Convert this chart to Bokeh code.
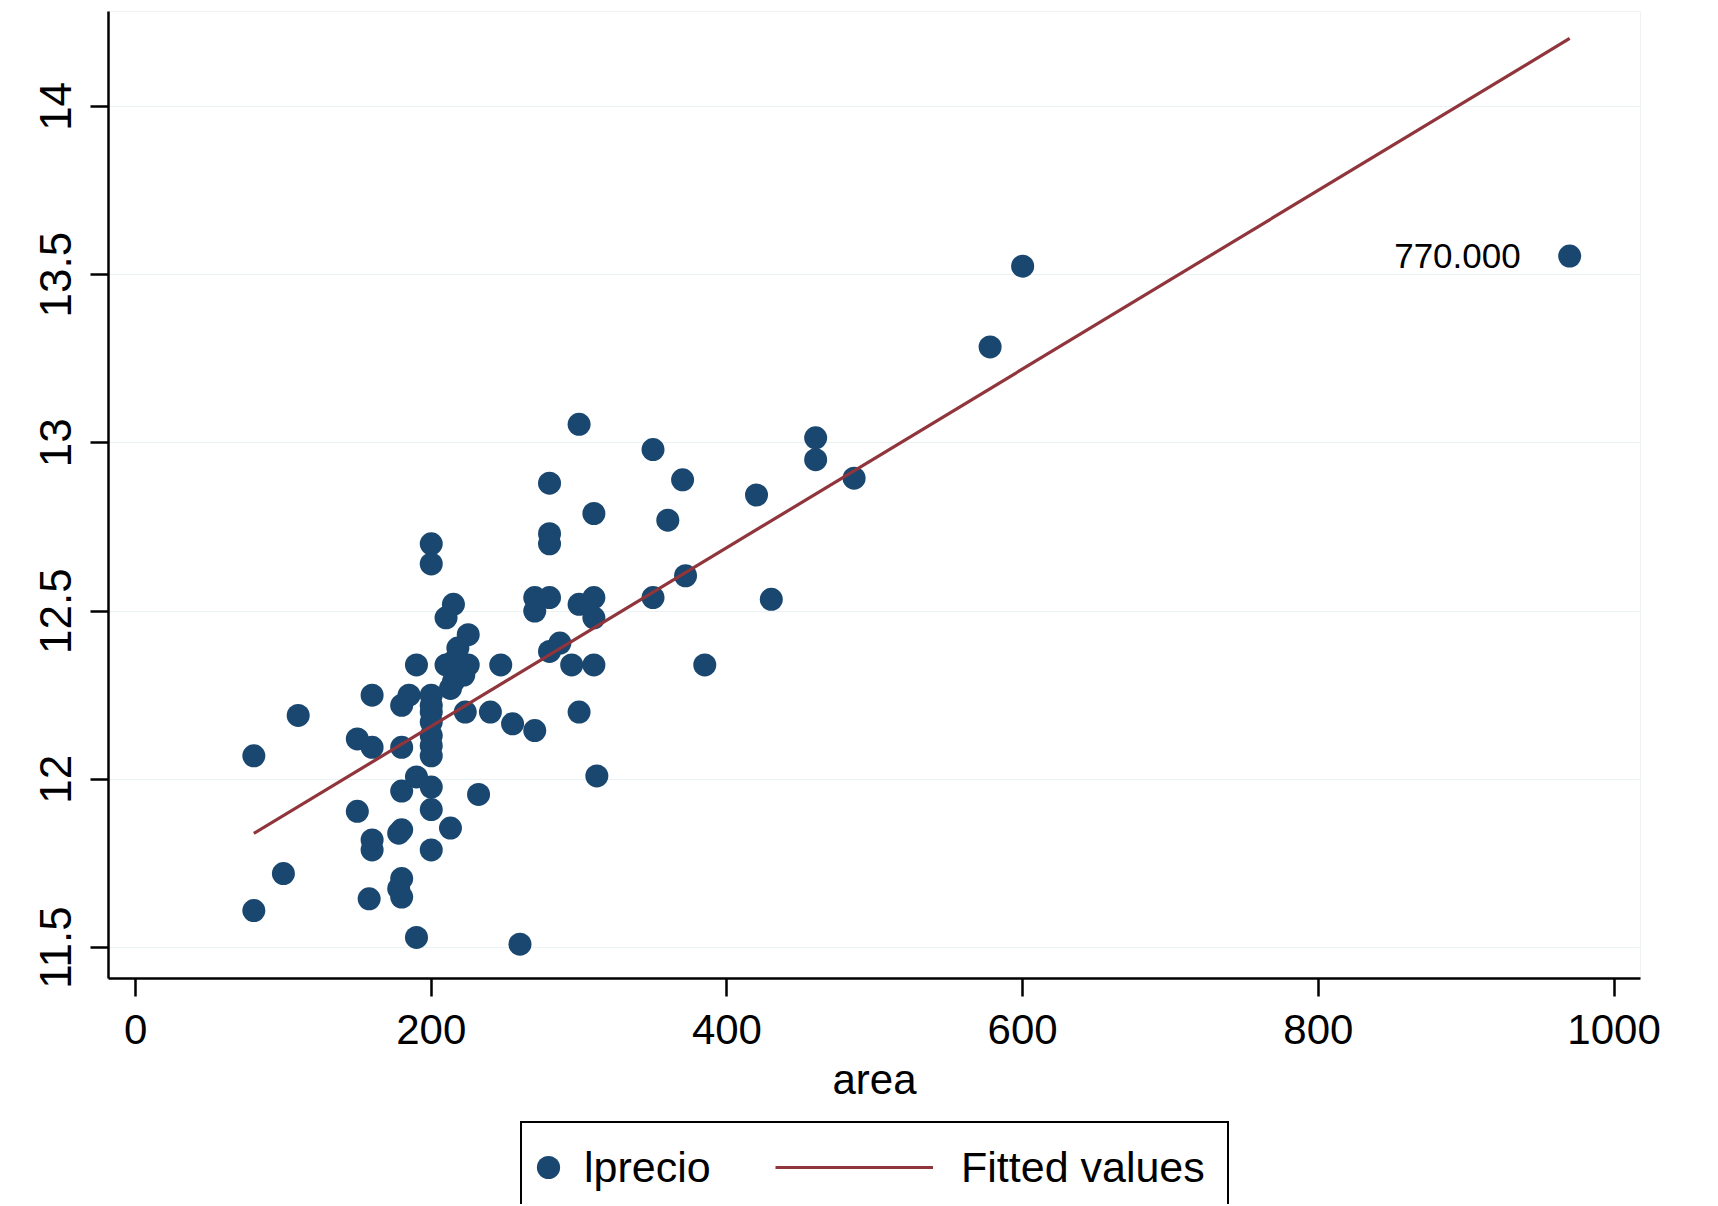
from bokeh.plotting import figure
from bokeh.layouts import column
from bokeh.models import Range1d, FixedTicker, Legend, LegendItem, NumeralTickFormatter
from bokeh.embed import file_html
from bokeh.resources import INLINE
from bokeh.core.properties import value

# ---- data ----
area = [80, 80, 100, 110, 150, 150, 160, 160, 160, 160, 158,
        178, 180, 180, 185, 180, 180, 180, 178, 180,
        190, 190, 190,
        200, 200, 200, 200, 200, 200, 200, 200, 200, 200, 200, 200,
        210, 215, 218, 225, 210, 215, 225, 215, 222, 213, 223, 213, 232,
        240, 247, 255, 260, 270, 270, 280, 270, 280, 287, 280, 280, 280,
        295, 300, 300, 300, 310, 310, 310, 310, 312,
        350, 350, 360, 370, 372, 385, 420, 430, 460, 460, 486,
        578, 600, 970]
lprecio = [12.07, 11.61, 11.72, 12.19, 12.12, 11.905, 12.25, 12.095, 11.82, 11.79, 11.645,
           11.84, 11.85, 12.22, 12.25, 12.095, 11.965, 11.705, 11.675, 11.65,
           12.34, 12.007, 11.53,
           12.70, 12.64, 12.25, 12.22, 12.20, 12.17, 12.13, 12.10, 12.07, 11.977, 11.91, 11.79,
           12.48, 12.52, 12.39, 12.43, 12.34, 12.35, 12.34, 12.29, 12.31, 12.27, 12.20, 11.855, 11.955,
           12.20, 12.34, 12.165, 11.51, 12.145, 12.54, 12.54, 12.50, 12.38, 12.405, 12.73, 12.70, 12.88,
           12.34, 12.52, 12.20, 13.055, 12.54, 12.48, 12.34, 12.79, 12.01,
           12.54, 12.98, 12.77, 12.89, 12.605, 12.34, 12.845, 12.535, 13.015, 12.95, 12.895,
           13.285, 13.525, 13.555]

fit_area = [80, 970]
fit_values = [11.839, 14.202]

label_area = [970]
label_lprecio = [13.555]
label_text = ["770.000"]

x_ticks = [0, 200, 400, 600, 800, 1000]
y_ticks = [11.5, 12, 12.5, 13, 13.5, 14]

NAVY = "#1a476f"
MAROON = "#90353b"
FONT = "Liberation Sans"
NAN = float("nan")

p = figure(frame_width=1532, frame_height=967,
           x_range=Range1d(-18.3, 1017.9), y_range=Range1d(11.408, 14.282),
           output_backend="svg", toolbar_location=None,
           min_border_left=108, min_border_right=40,
           min_border_top=11, min_border_bottom=142)
p.background_fill_color = "white"
p.border_fill_color = "white"
p.outline_line_color = "#eef2f3"
p.outline_line_width = 1

p.xgrid.visible = False
p.ygrid.ticker = FixedTicker(ticks=y_ticks)
p.ygrid.grid_line_color = "#eaf2f3"
p.ygrid.grid_line_width = 1

sc = p.scatter(area, lprecio, size=23, fill_color=NAVY, line_color=None)
ln = p.line(fit_area, fit_values, line_color=MAROON, line_width=3.2)
p.text(x=label_area, y=label_lprecio, text=label_text, x_offset=-49,
       text_align="right", text_baseline="middle",
       text_font=value(FONT), text_font_size="35px", text_color="black")

for ax in (p.xaxis[0], p.yaxis[0]):
    ax.axis_line_width = 2.5
    ax.axis_line_color = "black"
    ax.major_tick_line_width = 2.5
    ax.major_tick_line_color = "black"
    ax.major_tick_out = 18
    ax.major_tick_in = 0
    ax.minor_tick_line_color = None
    ax.major_label_text_font = FONT
    ax.major_label_text_color = "black"

p.xaxis.ticker = FixedTicker(ticks=x_ticks)
p.xaxis.major_label_text_font_size = "42px"
p.xaxis.major_label_standoff = 18
p.xaxis.axis_label = "area"
p.xaxis.axis_label_text_font = FONT
p.xaxis.axis_label_text_font_size = "42px"
p.xaxis.axis_label_text_font_style = "normal"
p.xaxis.axis_label_text_color = "black"
p.xaxis.axis_label_standoff = 9

p.yaxis.ticker = FixedTicker(ticks=y_ticks)
p.yaxis.formatter = NumeralTickFormatter(format="0.[0]")
p.yaxis.major_label_text_font_size = "44px"
p.yaxis.major_label_orientation = "vertical"
p.yaxis.major_label_standoff = 19

# ---- legend strip below the chart (its frame is aligned with the chart's frame, x0 = 108) ----
p2 = figure(width=1680, height=84, x_range=Range1d(0, 1), y_range=Range1d(0, 1),
            output_backend="svg", toolbar_location=None,
            x_axis_location=None, y_axis_location=None,
            min_border_left=0, min_border_right=0, min_border_top=0, min_border_bottom=0)
p2.outline_line_color = None
p2.grid.visible = False
p2.background_fill_color = "white"
p2.border_fill_color = "white"

# legend-only stand-ins (no visible marks)
d_box = p2.scatter(x=[NAN], y=[NAN], fill_alpha=0, line_alpha=0)
d_dot = p2.scatter(x=[NAN], y=[NAN], size=23, fill_color=NAVY, line_color=None)
d_line = p2.line(x=[NAN, NAN], y=[NAN, NAN], line_color=MAROON, line_width=3.2)

box = Legend(items=[LegendItem(label=" ", renderers=[d_box])],
             location=(412, -3), glyph_width=705, glyph_height=82,
             label_standoff=0, label_width=0, label_height=0,
             label_text_font_size="1px", padding=0, margin=0, spacing=0,
             border_line_color="black", border_line_width=2, border_line_alpha=1,
             background_fill_color="white", background_fill_alpha=1)
leg1 = Legend(items=[LegendItem(label="lprecio", renderers=[d_dot])],
              location=(411, 8), glyph_width=58, glyph_height=58,
              label_standoff=7, padding=0, margin=0, spacing=0,
              label_text_font=FONT, label_text_font_size="43px", label_text_color="black",
              border_line_alpha=0, background_fill_alpha=0)
leg2 = Legend(items=[LegendItem(label="Fitted values", renderers=[d_line])],
              location=(667, 8), glyph_width=158, glyph_height=58,
              label_standoff=28, padding=0, margin=0, spacing=0,
              label_text_font=FONT, label_text_font_size="43px", label_text_color="black",
              border_line_alpha=0, background_fill_alpha=0)
p2.add_layout(box)
p2.add_layout(leg1)
p2.add_layout(leg2)

layout = column(p, p2, spacing=0)
open("out.html", "w").write(file_html(layout, INLINE))
